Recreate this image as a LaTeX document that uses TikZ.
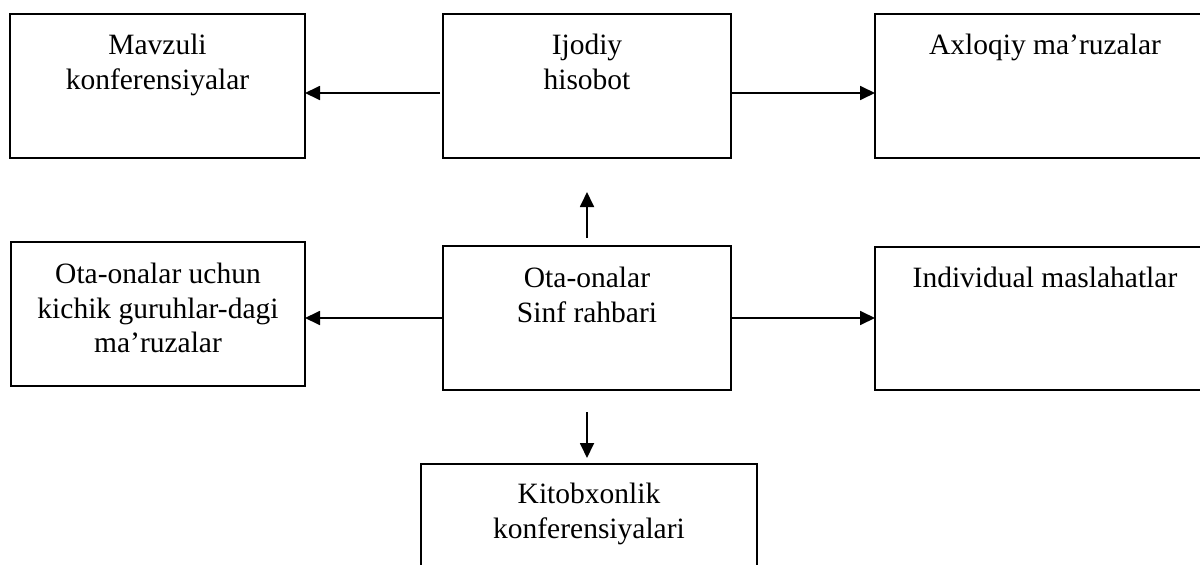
\documentclass[tikz,border=0pt]{standalone}
\usepackage{fontspec}
\setmainfont{Liberation Serif}
\usetikzlibrary{arrows.meta}
\begin{document}
\begin{tikzpicture}[x=1pt,y=-1pt,
  box/.style={draw, line width=1.8pt, inner sep=0pt, outer sep=0pt, anchor=north west},
  lbl/.style={anchor=north, align=center, inner sep=0pt, font=\fontsize{29.5}{34.5}\selectfont},
  arr/.style={line width=1.8pt, -{Triangle[length=15pt,width=14pt]}}]
\clip (0,0) rectangle (1200,565);
\node[box, minimum width=295pt, minimum height=144pt] (b1) at (10,14) {};
\node[box, minimum width=288pt, minimum height=144pt] (b2) at (443,14) {};
\node[box, minimum width=340pt, minimum height=144pt] (b3) at (875,14) {};
\node[box, minimum width=294pt, minimum height=144pt] (b4) at (11,242) {};
\node[box, minimum width=288pt, minimum height=144pt] (b5) at (443,246) {};
\node[box, minimum width=340pt, minimum height=143pt] (b6) at (875,247) {};
\node[box, minimum width=336pt, minimum height=150pt] (b7) at (421,464) {};
\node[lbl] (t1) at ([yshift=-20pt]b1.north) {Mavzuli\\konferensiyalar};
\node[lbl] (t2) at ([yshift=-20pt]b2.north) {Ijodiy\\hisobot};
\node[lbl] (t3) at ([yshift=-20pt]b3.north) {Axloqiy ma’ruzalar};
\node[lbl] (t4) at ([yshift=-21pt]b4.north) {Ota-onalar uchun\\kichik guruhlar-dagi\\ma’ruzalar};
\node[lbl] (t5) at ([yshift=-21pt]b5.north) {Ota-onalar\\Sinf rahbari};
\node[lbl] (t6) at ([yshift=-20pt]b6.north) {Individual maslahatlar};
\node[lbl] (t7) at ([yshift=-19pt]b7.north) {Kitobxonlik\\konferensiyalari};
\draw[arr] ([xshift=-3pt,yshift=-7pt]b2.west) -- ([yshift=-7pt]b1.east);
\draw[arr] ([yshift=-7pt]b2.east) -- ([yshift=-7pt]b3.west);
\draw[arr] (b5.west) -- (b4.east |- b5.west);
\draw[arr] (b5.east) -- (b6.west |- b5.east);
\draw[arr] ([yshift=8pt]b5.north) -- ([yshift=-34pt]b2.south);
\draw[arr] ([yshift=-22pt]b5.south) -- ([yshift=6pt]b5.south |- b7.north);
\end{tikzpicture}
\end{document}
